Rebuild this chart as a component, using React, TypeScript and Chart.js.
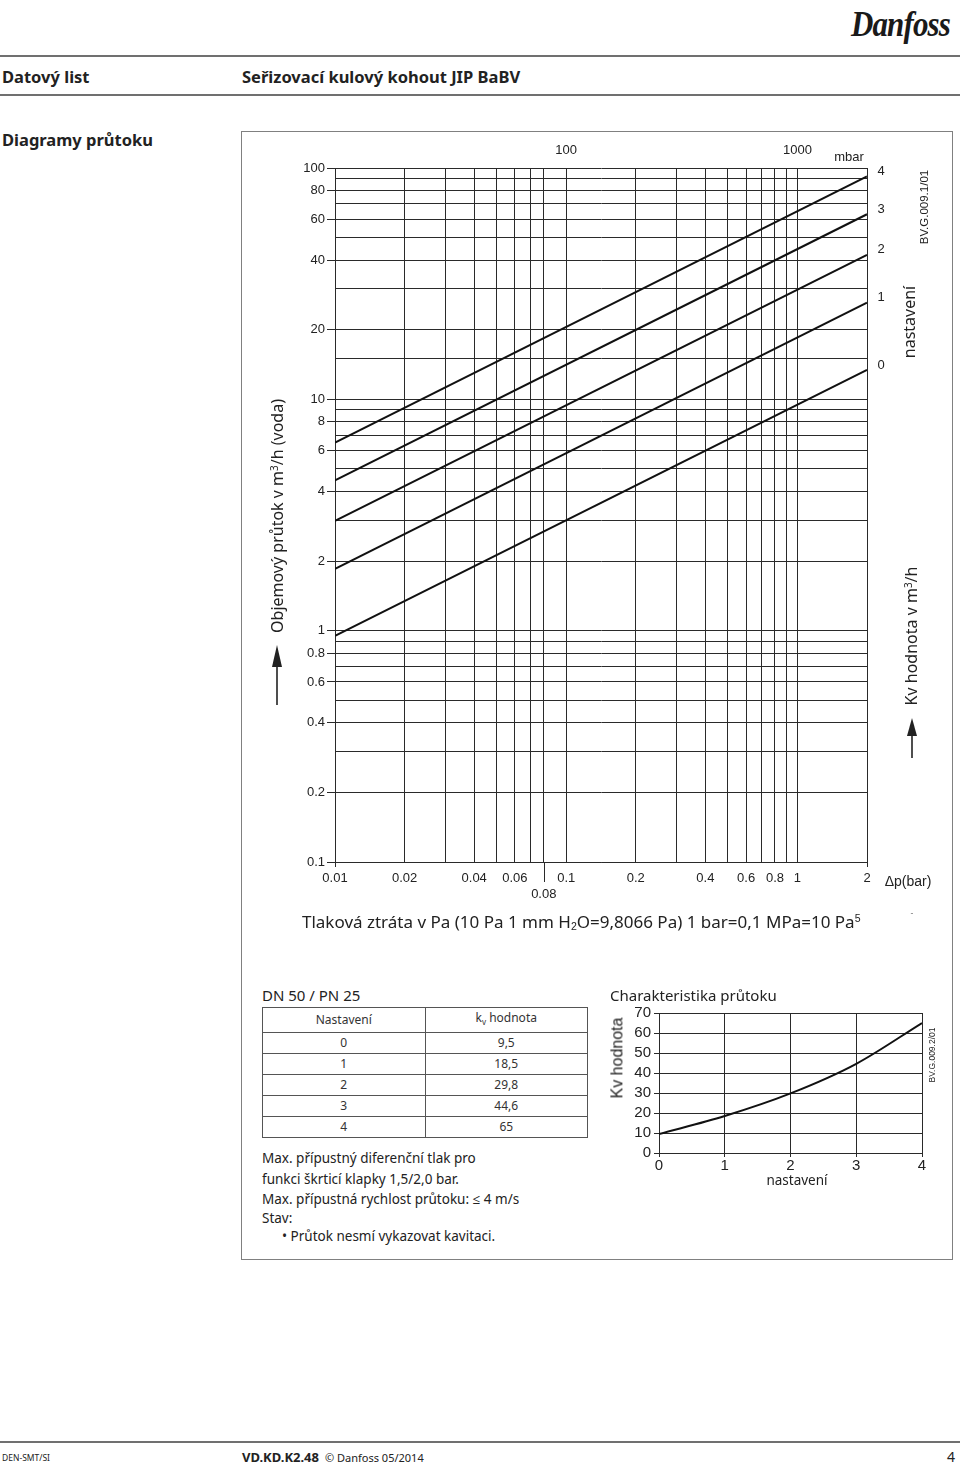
import React, { useEffect, useRef } from 'react';
import { Chart, registerables } from 'chart.js';

Chart.register(...registerables);

// ---------- data ----------
const settings = ['0', '1', '2', '3', '4'];
const kvValues = [9.5, 18.5, 29.8, 44.6, 65];
const settingPositions = [0, 1, 2, 3, 4];
const dpRange = [0.01, 2];
const flowAtDpMin = [0.95, 1.85, 2.98, 4.46, 6.5];
const flowAtDpMax = [13.4, 26.2, 42.1, 63.1, 91.9];
const xGridValues = [0.01, 0.02, 0.03, 0.04, 0.05, 0.06, 0.07, 0.08, 0.1, 0.2, 0.3, 0.4, 0.5, 0.6, 0.7, 0.8, 0.9, 1, 2];
const xTickLabels = ['0.01', '0.02', '0.04', '0.06', '0.1', '0.2', '0.4', '0.6', '0.8', '1', '2'];
const xSecondRowLabels = ['0.08'];
const xMarkedTicks = ['0.01', '2'];
const yGridValues = [0.1, 0.2, 0.3, 0.4, 0.5, 0.6, 0.7, 0.8, 0.9, 1, 2, 3, 4, 5, 6, 7, 8, 9, 10, 15, 20, 30, 40, 50, 60, 70, 80, 90, 100];
const yTickLabels = ['0.1', '0.2', '0.4', '0.6', '0.8', '1', '2', '4', '6', '8', '10', '20', '40', '60', '80', '100'];
const mbarTickValues = [0.1, 1];
const mbarTickLabels = ['100', '1000'];

const AR = '"Liberation Sans", Arial, Helvetica, sans-serif';
const NOTO = '"Noto Sans", "Open Sans", sans-serif';
const INK = '#222';
const GRID = '#2a2a2a';

const mainExtras = {
  id: 'mainExtras',
  afterDatasetsDraw(chart: any) {
    const ctx = chart.ctx;
    ctx.save();
    ctx.font = `13px ${AR}`;
    ctx.fillStyle = INK;
    ctx.textAlign = 'center';
    ctx.textBaseline = 'middle';
    chart.data.datasets.forEach((_ds: any, i: number) => {
      const meta = chart.getDatasetMeta(i);
      const pt = meta.data[meta.data.length - 1];
      ctx.fillText(settings[i], pt.x + 14, pt.y - 5);
    });
    const sx = chart.scales.x;
    const px = Math.round(sx.getPixelForValue(0.08)) + 0.5;
    ctx.strokeStyle = GRID;
    ctx.lineWidth = 1;
    ctx.beginPath();
    ctx.moveTo(px, chart.chartArea.bottom);
    ctx.lineTo(px, chart.chartArea.bottom + 20);
    ctx.stroke();
    ctx.restore();
  },
};

function MainChart() {
  const ref = useRef<HTMLCanvasElement>(null);
  useEffect(() => {
    const chart = new Chart(ref.current as HTMLCanvasElement, {
      type: 'line',
      data: {
        datasets: settings.map((s, i) => ({
          label: s,
          data: [
            { x: dpRange[0], y: flowAtDpMin[i] },
            { x: dpRange[1], y: flowAtDpMax[i] },
          ],
          borderColor: '#111',
          borderWidth: 2,
          pointRadius: 0,
          fill: false,
          tension: 0,
        })),
      },
      options: {
        responsive: false,
        animation: false,
        events: [],
        layout: { padding: { left: 0, right: 93, top: 0, bottom: 0 } },
        plugins: { legend: { display: false }, tooltip: { enabled: false }, title: { display: false } },
        scales: {
          x: {
            type: 'logarithmic',
            position: 'bottom',
            min: dpRange[0],
            max: dpRange[1],
            afterBuildTicks: (s: any) => {
              s.ticks = xGridValues.map((v) => ({ value: v }));
            },
            afterFit: (s: any) => {
              s.height = 78;
            },
            ticks: {
              autoSkip: false,
              maxRotation: 0,
              minRotation: 0,
              padding: 4,
              color: INK,
              font: { family: AR, size: 13 },
              callback: (v: any) => {
                const str = String(v);
                if (xTickLabels.includes(str)) return str;
                if (xSecondRowLabels.includes(str)) return ['', str];
                return '';
              },
            },
            grid: {
              color: GRID,
              lineWidth: 1,
              drawTicks: true,
              tickLength: 5,
              tickColor: (c: any) => (c.tick && xMarkedTicks.includes(String(c.tick.value)) ? GRID : 'rgba(0,0,0,0)'),
            },
            border: { color: GRID, width: 1 },
          },
          xTop: {
            type: 'logarithmic',
            position: 'top',
            min: dpRange[0],
            max: dpRange[1],
            afterBuildTicks: (s: any) => {
              s.ticks = mbarTickValues.map((v) => ({ value: v }));
            },
            afterFit: (s: any) => {
              s.height = 28;
            },
            ticks: {
              autoSkip: false,
              maxRotation: 0,
              minRotation: 0,
              padding: 2,
              color: INK,
              font: { family: AR, size: 13 },
              callback: (v: any) => {
                const idx = mbarTickValues.indexOf(Number(v));
                return idx >= 0 ? mbarTickLabels[idx] : '';
              },
            },
            grid: { display: false },
            border: { display: false },
          },
          y: {
            type: 'logarithmic',
            position: 'left',
            min: 0.1,
            max: 100,
            afterBuildTicks: (s: any) => {
              s.ticks = yGridValues.map((v) => ({ value: v }));
            },
            afterFit: (s: any) => {
              s.width = 95;
            },
            ticks: {
              autoSkip: false,
              padding: 2,
              color: INK,
              font: { family: AR, size: 13 },
              callback: (v: any) => {
                const str = String(v);
                return yTickLabels.includes(str) ? str : '';
              },
            },
            grid: {
              color: GRID,
              lineWidth: 1,
              drawTicks: true,
              tickLength: 8,
              tickColor: (c: any) => (c.tick && yTickLabels.includes(String(c.tick.value)) ? GRID : 'rgba(0,0,0,0)'),
            },
            border: { color: GRID, width: 1 },
          },
        },
      } as any,
      plugins: [mainExtras],
    });
    return () => chart.destroy();
  }, []);
  return (
    <canvas
      ref={ref}
      width={720}
      height={800}
      style={{ position: 'absolute', left: 240, top: 140, width: 720, height: 800 }}
    />
  );
}

function SmallChart() {
  const ref = useRef<HTMLCanvasElement>(null);
  useEffect(() => {
    const chart = new Chart(ref.current as HTMLCanvasElement, {
      type: 'line',
      data: {
        datasets: [
          {
            label: 'Kv',
            data: settingPositions.map((x, i) => ({ x, y: kvValues[i] })),
            borderColor: '#111',
            borderWidth: 2,
            pointRadius: 0,
            fill: false,
            cubicInterpolationMode: 'monotone',
          },
        ],
      },
      options: {
        responsive: false,
        animation: false,
        events: [],
        layout: { padding: { left: 0, right: 18, top: 13, bottom: 0 } },
        plugins: { legend: { display: false }, tooltip: { enabled: false } },
        scales: {
          x: {
            type: 'linear',
            min: 0,
            max: 4,
            afterFit: (s: any) => {
              s.height = 42;
            },
            ticks: { stepSize: 1, autoSkip: false, padding: 0, maxRotation: 0, color: INK, font: { family: AR, size: 15 } },
            grid: { color: GRID, lineWidth: 1, tickLength: 4 },
            border: { color: GRID, width: 1 },
          },
          y: {
            type: 'linear',
            min: 0,
            max: 70,
            afterFit: (s: any) => {
              s.width = 59;
            },
            ticks: { stepSize: 10, autoSkip: false, padding: 3, color: INK, font: { family: AR, size: 15 } },
            grid: { color: GRID, lineWidth: 1, tickLength: 5 },
            border: { color: GRID, width: 1 },
          },
        },
      } as any,
    });
    return () => chart.destroy();
  }, []);
  return (
    <canvas
      ref={ref}
      width={340}
      height={195}
      style={{ position: 'absolute', left: 600, top: 1000, width: 340, height: 195 }}
    />
  );
}

type TProps = {
  x: number;
  y: number;
  children: React.ReactNode;
  size?: number;
  family?: string;
  weight?: number;
  align?: 'left' | 'center';
  rotate?: boolean;
  color?: string;
};

function T({ x, y, children, size = 16, family = NOTO, weight = 400, align = 'left', rotate = false, color = INK }: TProps) {
  let transform = 'translateY(-50%)';
  if (align === 'center') transform = 'translate(-50%,-50%)';
  if (rotate) transform = 'translate(-50%,-50%) rotate(-90deg)';
  return (
    <div
      style={{
        position: 'absolute',
        left: x,
        top: y,
        transform,
        whiteSpace: 'nowrap',
        fontSize: size,
        fontFamily: family,
        fontWeight: weight,
        lineHeight: 1.2,
        color,
      }}
    >
      {children}
    </div>
  );
}

function Arrow({ x, yTip, yEnd, head = 18, w = 10 }: { x: number; yTip: number; yEnd: number; head?: number; w?: number }) {
  return (
    <svg style={{ position: 'absolute', left: x - 8, top: yTip, overflow: 'visible' }} width={16} height={yEnd - yTip}>
      <line x1={8} y1={head - 2} x2={8} y2={yEnd - yTip} stroke="#222" strokeWidth={1.6} />
      <polygon points={`8,0 ${8 - w / 2},${head} ${8 + w / 2},${head}`} fill="#222" />
    </svg>
  );
}

const Line = ({ top, left = 0, width = 960 }: { top: number; left?: number; width?: number }) => (
  <div style={{ position: 'absolute', left, top, width, height: 2, background: '#707070' }} />
);

const sup: React.CSSProperties = { fontSize: '0.62em', verticalAlign: '0.55em', lineHeight: 0 };
const sub: React.CSSProperties = { fontSize: '0.62em', verticalAlign: '-0.25em', lineHeight: 0 };

export default function App() {
  const tableRows = settings.map((s, i) => [s, String(kvValues[i]).replace('.', ',')]);
  const cell: React.CSSProperties = {
    border: '1px solid #555',
    height: 20,
    padding: 0,
    textAlign: 'center',
    fontSize: 12,
    fontFamily: NOTO,
    color: '#333',
    lineHeight: '20px',
  };
  return (
    <div
      style={{
        position: 'absolute',
        left: 0,
        top: 0,
        width: 960,
        height: 1463,
        background: '#fff',
        overflow: 'hidden',
        fontFamily: NOTO,
        color: INK,
      }}
    >
      {/* header */}
      <div
        style={{
          position: 'absolute',
          left: 851,
          top: 2,
          fontFamily: '"Liberation Serif", "DejaVu Serif", serif',
          fontStyle: 'italic',
          fontWeight: 700,
          fontSize: 36,
          lineHeight: '44px',
          transform: 'scaleX(0.86)',
          transformOrigin: 'left top',
          color: '#1a1a1a',
          letterSpacing: -1,
        }}
      >
        Danfoss
      </div>
      <Line top={55} />
      <T x={2} y={77} size={16.5} weight={700}>Datový list</T>
      <T x={242} y={77} size={16.5} weight={700}>Seřizovací kulový kohout JIP BaBV</T>
      <Line top={94} />
      <T x={2} y={140} size={16.5} weight={700}>Diagramy průtoku</T>

      {/* frame */}
      <div
        style={{
          position: 'absolute',
          left: 241,
          top: 131,
          width: 712,
          height: 1129,
          border: '1.5px solid #808080',
          boxSizing: 'border-box',
        }}
      />

      <MainChart />
      <SmallChart />

      {/* main chart texts */}
      <T x={849} y={157} size={13} family={AR} align="center">mbar</T>
      <T x={925} y={207} size={11.5} family={AR} rotate>BV.G.009.1/01</T>
      <T x={910} y={322} size={16} rotate>nastavení</T>
      <T x={912} y={636} size={16} rotate>
        Kv hodnota v m<span style={sup}>3</span>/h
      </T>
      <Arrow x={912} yTip={718} yEnd={758} head={18} w={10} />
      <T x={278} y={516} size={16} rotate>
        Objemový průtok v m<span style={sup}>3</span>/h (voda)
      </T>
      <Arrow x={277} yTip={645} yEnd={705} head={22} w={10} />
      <T x={908} y={881} size={14} family={AR} align="center">Δp(bar)</T>
      <T x={302} y={922} size={17}>
        Tlaková ztráta v Pa (10 Pa 1 mm H<span style={{ ...sub, fontFamily: AR }}>2</span>O=9,8066 Pa) 1 bar=0,1 MPa=10 Pa
        <span style={{ ...sup, fontFamily: AR }}>5</span>
      </T>
      <T x={912} y={913} size={9} color="#777" align="center">-</T>

      {/* table section */}
      <T x={262} y={995} size={15}>DN 50 / PN 25</T>
      <table
        style={{
          position: 'absolute',
          left: 262,
          top: 1007,
          width: 326,
          borderCollapse: 'collapse',
          tableLayout: 'fixed',
        }}
      >
        <tbody>
          <tr>
            <td style={cell}>Nastavení</td>
            <td style={cell}>
              k<span style={{ fontSize: 8, verticalAlign: -3 }}>v</span> hodnota
            </td>
          </tr>
          {tableRows.map((r) => (
            <tr key={r[0]}>
              <td style={cell}>{r[0]}</td>
              <td style={cell}>{r[1]}</td>
            </tr>
          ))}
        </tbody>
      </table>
      <T x={262} y={1158} size={13.5}>Max. přípustný diferenční tlak pro</T>
      <T x={262} y={1179} size={13.5}>funkci škrticí klapky 1,5/2,0 bar.</T>
      <T x={262} y={1199} size={13.5}>Max. přípustná rychlost průtoku: ≤ 4 m/s</T>
      <T x={262} y={1218} size={13.5}>Stav:</T>
      <T x={282} y={1236} size={13.5}>• Průtok nesmí vykazovat kavitaci.</T>

      {/* small chart texts */}
      <T x={610} y={995} size={15}>Charakteristika průtoku</T>
      <T x={617} y={1058} size={16} family={AR} rotate>Kv hodnota</T>
      <T x={797} y={1180} size={13.5} align="center">nastavení</T>
      <T x={932} y={1055} size={8.5} family={AR} rotate>BV.G.009.2/01</T>

      {/* footer */}
      <Line top={1441} />
      <T x={2} y={1458} size={8.5}>DEN-SMT/SI</T>
      <T x={242} y={1458} size={13} weight={700}>VD.KD.K2.48</T>
      <T x={325} y={1458} size={11}>© Danfoss 05/2014</T>
      <T x={947} y={1457} size={14}>4</T>
    </div>
  );
}
